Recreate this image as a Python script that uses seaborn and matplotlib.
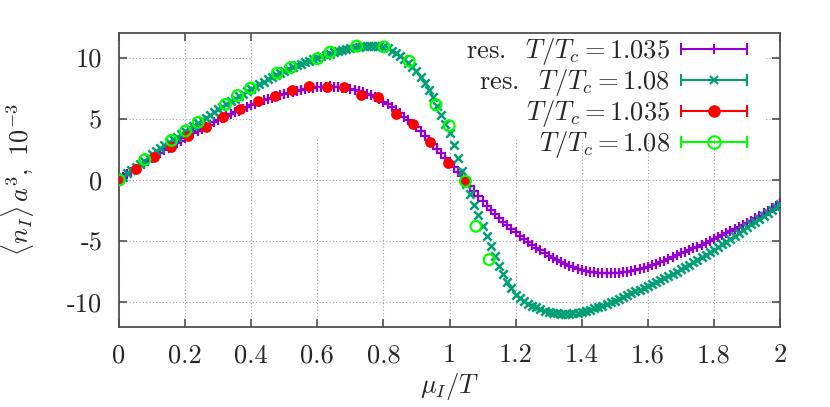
import numpy as np
import pandas as pd
import seaborn as sns
import matplotlib.pyplot as plt
from matplotlib.lines import Line2D
from matplotlib.patches import Rectangle
from matplotlib.legend_handler import HandlerBase

# --- data ---
# residual curves, mu_I/T from 0 to 2 in steps of 0.0125
res_x = [round(i * 0.0125, 4) for i in range(161)]
res_1035 = [
    0.00, 0.23, 0.45, 0.68, 0.90, 1.12, 1.34, 1.56, 1.78, 1.99, 2.20, 2.41,
    2.62, 2.82, 3.02, 3.22, 3.42, 3.61, 3.80, 3.98, 4.17, 4.35, 4.52, 4.70,
    4.87, 5.03, 5.20, 5.36, 5.52, 5.67, 5.81, 5.96, 6.10, 6.23, 6.36, 6.49,
    6.62, 6.73, 6.84, 6.95, 7.05, 7.14, 7.22, 7.30, 7.38, 7.44, 7.49, 7.54,
    7.58, 7.61, 7.63, 7.64, 7.63, 7.60, 7.55, 7.50, 7.45, 7.36, 7.26, 7.16,
    7.05, 6.90, 6.74, 6.58, 6.40, 6.18, 5.95, 5.71, 5.45, 5.18, 4.89, 4.60,
    4.30, 3.96, 3.62, 3.27, 2.92, 2.55, 2.19, 1.82, 1.45, 1.06, 0.68, 0.29,
    -0.10, -0.51, -0.93, -1.34, -1.75, -2.10, -2.44, -2.78, -3.12, -3.41, -3.70, -3.99,
    -4.28, -4.54, -4.79, -5.05, -5.30, -5.52, -5.74, -5.96, -6.18, -6.36, -6.53, -6.71,
    -6.88, -7.01, -7.13, -7.25, -7.35, -7.42, -7.48, -7.53, -7.58, -7.60, -7.61, -7.62,
    -7.62, -7.59, -7.55, -7.50, -7.45, -7.36, -7.27, -7.18, -7.08, -6.96, -6.83, -6.71,
    -6.58, -6.44, -6.29, -6.15, -6.00, -5.86, -5.72, -5.57, -5.43, -5.29, -5.14, -5.00,
    -4.85, -4.69, -4.53, -4.36, -4.20, -4.03, -3.85, -3.68, -3.50, -3.31, -3.12, -2.92,
    -2.73, -2.52, -2.32, -2.11, -1.90,
]
res_108 = [
    0.00, 0.27, 0.54, 0.80, 1.07, 1.33, 1.59, 1.86, 2.12, 2.37, 2.61, 2.86,
    3.10, 3.33, 3.55, 3.78, 4.00, 4.22, 4.44, 4.66, 4.88, 5.10, 5.32, 5.54,
    5.76, 5.98, 6.19, 6.41, 6.62, 6.83, 7.03, 7.24, 7.44, 7.64, 7.83, 8.03,
    8.22, 8.40, 8.57, 8.75, 8.92, 9.07, 9.21, 9.36, 9.50, 9.62, 9.74, 9.86,
    9.98, 10.09, 10.20, 10.31, 10.42, 10.51, 10.60, 10.69, 10.78, 10.84, 10.89, 10.93,
    10.96, 10.98, 10.97, 10.94, 10.88, 10.75, 10.57, 10.37, 10.15, 9.88, 9.57, 9.25,
    8.90, 8.40, 7.88, 7.33, 6.75, 6.05, 5.33, 4.60, 3.85, 2.82, 1.78, 0.74,
    -0.30, -1.16, -2.03, -2.89, -3.75, -4.58, -5.40, -6.23, -7.05, -7.70, -8.30, -8.85,
    -9.35, -9.65, -9.90, -10.10, -10.25, -10.40, -10.54, -10.66, -10.75, -10.82, -10.88, -10.91,
    -10.92, -10.91, -10.87, -10.82, -10.75, -10.67, -10.58, -10.48, -10.38, -10.26, -10.13, -9.99,
    -9.85, -9.70, -9.55, -9.40, -9.25, -9.10, -8.95, -8.80, -8.65, -8.49, -8.33, -8.16,
    -8.00, -7.83, -7.65, -7.48, -7.30, -7.11, -6.91, -6.72, -6.52, -6.32, -6.11, -5.91,
    -5.70, -5.48, -5.25, -5.03, -4.80, -4.56, -4.33, -4.09, -3.85, -3.62, -3.39, -3.15,
    -2.92, -2.69, -2.46, -2.23, -2.00,
]

# lattice data points
data_1035_x = [0.000, 0.052, 0.105, 0.157, 0.209, 0.262, 0.314, 0.367, 0.419, 0.471, 0.524,
               0.576, 0.628, 0.681, 0.733, 0.785, 0.838, 0.890, 0.942, 0.995, 1.047]
data_1035_y = [0.00, 0.92, 1.87, 2.66, 3.56, 4.35, 5.14, 5.79, 6.41, 6.88, 7.31,
               7.64, 7.59, 7.56, 6.90, 6.74, 5.38, 4.57, 3.07, 1.39, -0.05]
data_108_x = [0.000, 0.078, 0.159, 0.201, 0.239, 0.322, 0.359, 0.398, 0.479, 0.520,
              0.600, 0.639, 0.719, 0.802, 0.878, 0.959, 0.999, 1.048, 1.080, 1.120]
data_108_y = [0.00, 1.66, 3.23, 4.00, 4.70, 6.17, 6.90, 7.50, 8.73, 9.19,
              9.90, 10.44, 10.93, 10.87, 9.70, 6.14, 4.43, -0.10, -3.78, -6.50]

labels = [r'$\mathrm{res.}\ \ T/T_c = 1.035$', r'$\mathrm{res.}\ \ T/T_c = 1.08$',
          r'$T/T_c = 1.035$', r'$T/T_c = 1.08$']
xticks = [0, 0.2, 0.4, 0.6, 0.8, 1.0, 1.2, 1.4, 1.6, 1.8, 2.0]
xtick_labels = ['0', '0.2', '0.4', '0.6', '0.8', '1', '1.2', '1.4', '1.6', '1.8', '2']
yticks = [-10, -5, 0, 5, 10]
ytick_labels = ['-10', '-5', '0', '5', '10']

PURPLE = '#9400d3'
TEAL = '#009e73'
RED = '#ff0000'
LIME = '#00ff00'

sns.set_style('ticks')
plt.rcParams['font.family'] = ['cmr10', 'DejaVu Serif']
plt.rcParams['mathtext.fontset'] = 'cm'
plt.rcParams['axes.unicode_minus'] = False
FS = 19


class ErrKey(HandlerBase):
    # gnuplot style key sample: line with end caps and the point in the middle
    def create_artists(self, legend, orig, xd, yd, w, h, fs, trans):
        y = h / 2 - yd
        x0, x1 = -xd, w - xd
        c = orig.get_color()
        line = Line2D([x0, x1], [y, y], color=c, lw=1.5)
        caps = Line2D([x0, x1], [y, y], ls='none', marker='|', ms=8, mew=1.5, color=c)
        mk = Line2D([(x0 + x1) / 2], [y], ls='none', marker=orig.get_marker(),
                    ms=orig.get_markersize(), mew=orig.get_markeredgewidth(),
                    mfc=orig.get_markerfacecolor(), mec=orig.get_markeredgecolor())
        for a in (line, caps, mk):
            a.set_transform(trans)
        return [line, caps, mk]


fig = plt.figure(figsize=(8.3, 4.07), dpi=100)
ax = fig.add_axes([0.1434, 0.1966, 0.7964, 0.7223])

sns.scatterplot(x=res_x, y=res_1035, marker='+', s=48, color=PURPLE, linewidth=1.6, ax=ax, zorder=3)
sns.scatterplot(x=res_x, y=res_108, marker='x', s=36, color=TEAL, linewidth=1.8, ax=ax, zorder=4)
sns.scatterplot(x=data_1035_x, y=data_1035_y, marker='o', s=60, color=RED, edgecolor=RED,
                linewidth=0, ax=ax, zorder=5)
sns.scatterplot(x=data_108_x, y=data_108_y, marker='o', s=60, facecolor='none', edgecolor=LIME,
                linewidth=1.6, ax=ax, zorder=6)

ax.set_xlim(0, 2)
ax.set_ylim(-12, 12)
ax.set_xticks(xticks)
ax.set_xticklabels(xtick_labels)
ax.set_yticks(yticks)
ax.set_yticklabels(ytick_labels)
ax.tick_params(direction='in', length=6, width=1.2, color='#505050', labelsize=FS,
               top=True, right=True, pad=12)
for sp in ax.spines.values():
    sp.set_visible(True)
    sp.set_color('#505050')
    sp.set_linewidth(1.3)

ax.grid(True, ls=(0, (1, 2)), color='#a0a0a0', lw=0.8)
ax.set_axisbelow(True)
# opaque key area hides the grid
ax.add_patch(Rectangle((0.203, 0.643), 0.776, 0.357, transform=ax.transAxes,
                       facecolor='white', edgecolor='none', zorder=0.8))

ax.set_xlabel(r'$\mu_I/T$', fontsize=FS)
ax.set_ylabel(r'$\langle n_I\rangle\, a^3,\ 10^{-3}$', fontsize=FS)
ax.xaxis.set_label_coords(0.5, -0.15)
ax.yaxis.set_label_coords(-0.125, 0.5)

handles = [
    Line2D([], [], color=PURPLE, marker='+', ms=7, mew=1.5),
    Line2D([], [], color=TEAL, marker='x', ms=6, mew=1.6),
    Line2D([], [], color=RED, marker='o', ms=9, mew=0, mfc=RED, mec=RED),
    Line2D([], [], color=LIME, marker='o', ms=9, mew=1.5, mfc='none', mec=LIME),
]
leg = ax.legend(handles, labels, handler_map={Line2D: ErrKey()}, loc='upper right',
                bbox_to_anchor=(0.950, 0.99), frameon=False, fontsize=FS, markerfirst=False,
                borderpad=0, handlelength=2.5, handletextpad=0.4, labelspacing=0.0,
                borderaxespad=0)
leg._legend_box.align = 'right'
leg.set_zorder(10)

fig.savefig('out.png', dpi=100)
